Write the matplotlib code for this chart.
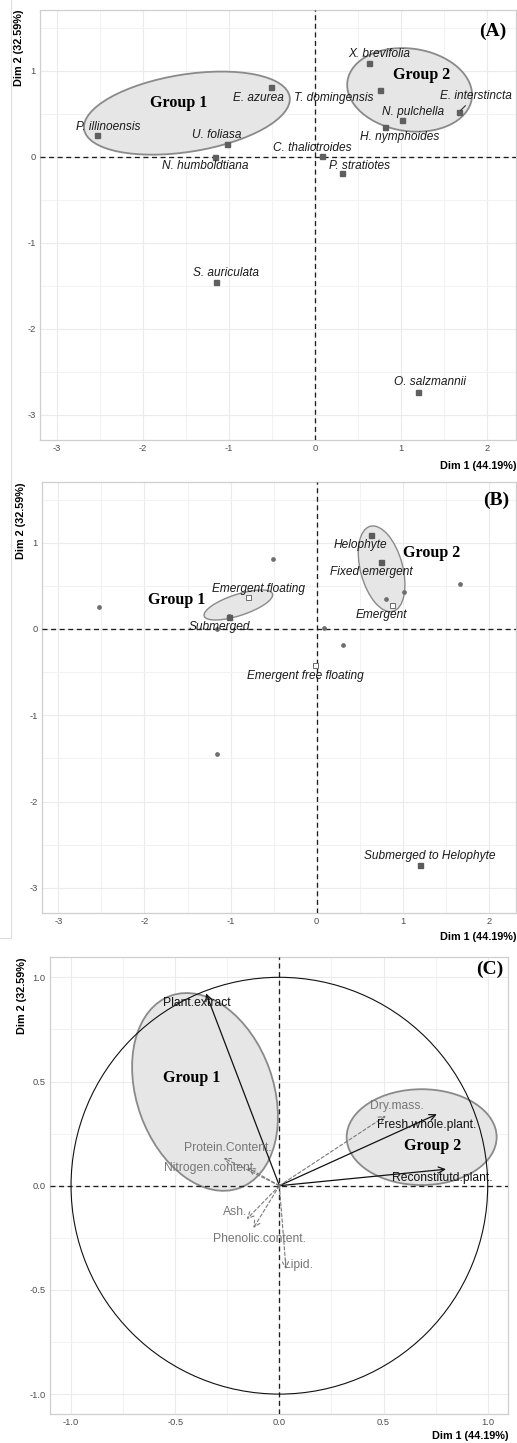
import matplotlib
matplotlib.use("Agg")
import matplotlib.pyplot as plt
from matplotlib.patches import Ellipse, Circle, FancyArrowPatch
from matplotlib.lines import Line2D
from matplotlib.ticker import MultipleLocator

plt.rcParams['font.family'] = ['Liberation Sans', 'DejaVu Sans']

# ---------------- Individuals (species scores) ----------------
species = ["P. illinoensis", "U. foliasa", "N. humboldtiana", "E. azurea",
           "X. brevifolia", "T. domingensis", "N. pulchella", "H. nymphoides",
           "E. interstincta", "C. thalictroides", "P. stratiotes",
           "S. auriculata", "O. salzmannii"]
dim1 = [-2.53, -1.02, -1.16, -0.51, 0.63, 0.755, 1.015, 0.81, 1.67, 0.085, 0.31, -1.155, 1.20]
dim2 = [0.25, 0.15, 0.00, 0.81, 1.09, 0.78, 0.43, 0.35, 0.52, 0.01, -0.19, -1.45, -2.73]

# ---------------- Life-form categories (supplementary) ----------------
single_cats = ["Submerged", "Helophyte", "Fixed emergent", "Submerged to Helophyte"]
single_dim1 = [-1.02, 0.63, 0.75, 1.20]
single_dim2 = [0.14, 1.09, 0.78, -2.73]
multi_cats = ["Emergent floating", "Emergent", "Emergent free floating"]
multi_dim1 = [-0.80, 0.87, -0.02]
multi_dim2 = [0.37, 0.28, -0.42]

# ---------------- Variables (correlation circle) ----------------
active_vars = ["Plant.extract", "Fresh.whole.plant.", "Reconstitutd.plant."]
active_dim1 = [-0.352, 0.756, 0.80]
active_dim2 = [0.923, 0.343, 0.079]
supp_vars = ["Dry.mass.", "Protein.Content.", "Nitrogen.content.", "Ash.",
             "Phenolic.content.", "Lipid."]
supp_dim1 = [0.512, -0.268, -0.152, -0.157, -0.125, 0.032]
supp_dim2 = [0.336, 0.133, 0.086, -0.161, -0.204, -0.401]

xlab = "Dim 1 (44.19%)"
ylab = "Dim 2 (32.59%)"

# label placement (data coordinates)
species_label_xy = {
    "P. illinoensis": (-2.41, 0.35), "U. foliasa": (-1.14, 0.25),
    "N. humboldtiana": (-1.28, -0.11), "E. azurea": (-0.66, 0.69),
    "X. brevifolia": (0.745, 1.20), "T. domingensis": (0.219, 0.69),
    "N. pulchella": (1.135, 0.52), "H. nymphoides": (0.99, 0.23),
    "E. interstincta": (1.866, 0.71), "C. thalictroides": (-0.035, 0.108),
    "P. stratiotes": (0.517, -0.10), "S. auriculata": (-1.035, -1.35),
    "O. salzmannii": (1.34, -2.62),
}
cat_label_xy = {
    "Submerged": (-1.13, 0.027), "Helophyte": (0.51, 0.973),
    "Fixed emergent": (0.64, 0.66), "Submerged to Helophyte": (1.318, -2.63),
    "Emergent floating": (-0.675, 0.467), "Emergent": (0.75, 0.16),
    "Emergent free floating": (-0.13, -0.54),
}
var_label_xy = {
    "Plant.extract": (-0.394, 0.875), "Fresh.whole.plant.": (0.709, 0.291),
    "Reconstitutd.plant.": (0.78, 0.035), "Dry.mass.": (0.565, 0.382),
    "Protein.Content.": (-0.245, 0.18), "Nitrogen.content.": (-0.333, 0.086),
    "Ash.": (-0.21, -0.128), "Phenolic.content.": (-0.093, -0.257),
    "Lipid.": (0.09, -0.38),
}

W, H = 517, 1443
DPI = 100
fig = plt.figure(figsize=(W / DPI, H / DPI), dpi=DPI)
fig.patch.set_facecolor("white")


def add_axes_px(left, top, right, bottom):
    return fig.add_axes([left / W, 1 - bottom / H, (right - left) / W, (bottom - top) / H])


GRID = "#ebebeb"
BORDER = "#cfcfcf"
TICKC = "#4d4d4d"
DASH = (0, (3.8, 2.7))
FILL = "#e6e6e6"
EDGE = "#8a8a8a"
serif_bold = dict(family=["Liberation Serif", "DejaVu Serif"], fontweight="bold")

# thin frame edge of the upper two panels' canvas
fig.add_artist(Line2D([11 / W, 11 / W], [1.0, 1 - 938 / H], transform=fig.transFigure,
                      color="#dedede", lw=0.8))
fig.add_artist(Line2D([0, 11 / W], [1 - 938 / H, 1 - 938 / H], transform=fig.transFigure,
                      color="#dedede", lw=0.8))


def style_axes(ax, xlim, ylim, major, minor):
    ax.set_xlim(*xlim)
    ax.set_ylim(*ylim)
    ax.xaxis.set_major_locator(MultipleLocator(major))
    ax.yaxis.set_major_locator(MultipleLocator(major))
    ax.xaxis.set_minor_locator(MultipleLocator(minor))
    ax.yaxis.set_minor_locator(MultipleLocator(minor))
    ax.grid(which="major", color=GRID, lw=0.8, zorder=0)
    ax.grid(which="minor", color="#f2f2f2", lw=0.7, zorder=0)
    ax.set_axisbelow(True)
    ax.tick_params(which="both", length=0, labelsize=6.7, labelcolor=TICKC, pad=3)
    for s in ax.spines.values():
        s.set_color(BORDER)
        s.set_linewidth(0.9)
    ax.axhline(0, color="#1e1e1e", lw=0.95, ls=DASH, zorder=3)
    ax.axvline(0, color="#1e1e1e", lw=0.95, ls=DASH, zorder=3)


def axis_titles(ax, ylab_x_px, xlab_y_px):
    bb = ax.get_position()
    fig.text(ylab_x_px / W, bb.y1, ylab, rotation=90, ha="center", va="top",
             fontsize=7.8, fontweight="bold")
    fig.text(bb.x1, 1 - xlab_y_px / H, xlab, ha="right", va="center",
             fontsize=7.8, fontweight="bold")


def fmt_int(v, _):
    return "0" if abs(v) < 1e-9 else f"{v:.0f}"


def fmt_one(v, _):
    return "0.0" if abs(v) < 1e-9 else f"{v:.1f}"


# ======================= Panel A =======================
axA = add_axes_px(40, 10, 516, 440)
style_axes(axA, (-3.198, 2.337), (-3.291, 1.709), 1, 0.5)
axA.xaxis.set_major_formatter(fmt_int)
axA.yaxis.set_major_formatter(fmt_int)
axA.add_patch(Ellipse((-1.49, 0.51), 2.42, 0.90, angle=9, facecolor=FILL,
                      edgecolor=EDGE, lw=1.3, zorder=2))
axA.add_patch(Ellipse((1.10, 0.78), 1.46, 0.96, angle=-8, facecolor=FILL,
                      edgecolor=EDGE, lw=1.3, zorder=2))
axA.plot(dim1, dim2, ls="none", marker="s", ms=3.6, color="#5f5f5f", zorder=4)
for name, x, y in zip(species, dim1, dim2):
    lx, ly = species_label_xy[name]
    if name == "E. interstincta":
        axA.annotate(name, xy=(x, y), xytext=(lx, ly), ha="center", va="center",
                     fontsize=8.6, style="italic", color="#1a1a1a", zorder=5,
                     arrowprops=dict(arrowstyle="-", color="#333333", lw=0.8,
                                     shrinkA=1, shrinkB=2))
    else:
        axA.text(lx, ly, name, ha="center", va="center", fontsize=8.6,
                 style="italic", color="#1a1a1a", zorder=5)
axA.text(-1.59, 0.63, "Group 1", ha="center", va="center", fontsize=11.5, zorder=5, **serif_bold)
axA.text(1.245, 0.95, "Group 2", ha="center", va="center", fontsize=11.5, zorder=5, **serif_bold)
axA.text(2.07, 1.46, "(A)", ha="center", va="center", fontsize=14, zorder=5, **serif_bold)
axis_titles(axA, 19, 466)

# ======================= Panel B =======================
axB = add_axes_px(41.7, 482, 516, 913)
style_axes(axB, (-3.194, 2.315), (-3.291, 1.703), 1, 0.5)
axB.xaxis.set_major_formatter(fmt_int)
axB.yaxis.set_major_formatter(fmt_int)
axB.add_patch(Ellipse((-0.91, 0.278), 0.834, 0.246, angle=18, facecolor=FILL,
                      edgecolor=EDGE, lw=1.0, zorder=2))
axB.add_patch(Ellipse((0.754, 0.697), 1.02, 0.49, angle=105, facecolor=FILL,
                      edgecolor=EDGE, lw=1.0, zorder=2))
axB.plot(dim1, dim2, ls="none", marker="o", ms=2.4, color="#6e6e6e", zorder=4)
axB.plot(single_dim1, single_dim2, ls="none", marker="s", ms=3.6, color="#5a5a5a", zorder=5)
axB.plot(multi_dim1, multi_dim2, ls="none", marker="s", ms=3.6, mfc="white",
         mec="#6a6a6a", mew=0.7, zorder=5)
for name in single_cats + multi_cats:
    lx, ly = cat_label_xy[name]
    axB.text(lx, ly, name, ha="center", va="center", fontsize=8.6,
             style="italic", color="#1a1a1a", zorder=6)
axB.text(-1.63, 0.33, "Group 1", ha="center", va="center", fontsize=11.5, zorder=6, **serif_bold)
axB.text(1.33, 0.88, "Group 2", ha="center", va="center", fontsize=11.5, zorder=6, **serif_bold)
axB.text(2.08, 1.49, "(B)", ha="center", va="center", fontsize=14, zorder=6, **serif_bold)
axis_titles(axB, 21, 937)

# ======================= Panel C =======================
axC = add_axes_px(50, 957.3, 508.3, 1414)
style_axes(axC, (-1.101, 1.099), (-1.0955, 1.096), 0.5, 0.25)
axC.xaxis.set_major_formatter(fmt_one)
axC.yaxis.set_major_formatter(fmt_one)
axC.add_patch(Ellipse((-0.357, 0.45), 0.98, 0.656, angle=109.6, facecolor=FILL,
                      edgecolor=EDGE, lw=1.3, zorder=2))
axC.add_patch(Ellipse((0.683, 0.233), 0.72, 0.46, angle=0, facecolor=FILL,
                      edgecolor=EDGE, lw=1.3, zorder=2))
axC.add_patch(Circle((0, 0), 1.0, fill=False, edgecolor="#111111", lw=0.8, zorder=4))
for name, x, y in zip(active_vars, active_dim1, active_dim2):
    axC.add_patch(FancyArrowPatch((0, 0), (x, y), arrowstyle="->,head_length=0.45,head_width=0.22",
                                  mutation_scale=10, color="#111111", lw=0.9,
                                  shrinkA=0, shrinkB=0, zorder=5))
    lx, ly = var_label_xy[name]
    axC.text(lx, ly, name, ha="center", va="center", fontsize=8.7, color="#111111", zorder=6)
for name, x, y in zip(supp_vars, supp_dim1, supp_dim2):
    axC.add_patch(FancyArrowPatch((0, 0), (x, y), arrowstyle="->,head_length=0.45,head_width=0.22",
                                  mutation_scale=10, color="#7a7a7a", lw=0.8, ls=(0, (3, 2)),
                                  shrinkA=0, shrinkB=0, zorder=5))
    lx, ly = var_label_xy[name]
    axC.text(lx, ly, name, ha="center", va="center", fontsize=8.7, color="#777777", zorder=6)
axC.text(-0.42, 0.515, "Group 1", ha="center", va="center", fontsize=11.5, zorder=6, **serif_bold)
axC.text(0.735, 0.19, "Group 2", ha="center", va="center", fontsize=11.5, zorder=6, **serif_bold)
axC.text(1.01, 1.04, "(C)", ha="center", va="center", fontsize=14, zorder=6, **serif_bold)
axis_titles(axC, 21.7, 1436)

fig.savefig("out.png", dpi=DPI, facecolor="white")
